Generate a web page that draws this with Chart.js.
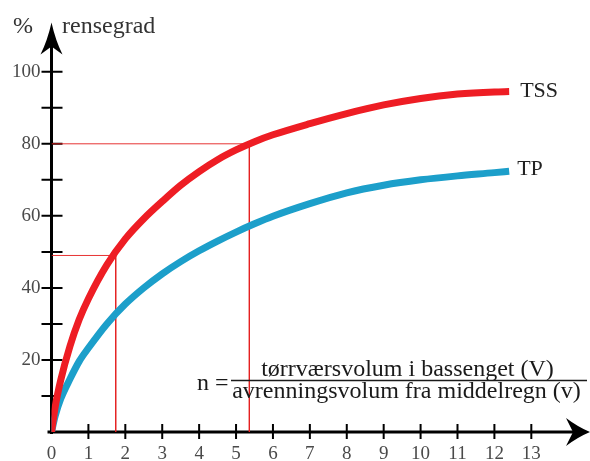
<!DOCTYPE html>
<html><head><meta charset="utf-8">
<script src="https://cdn.jsdelivr.net/npm/chart.js@4/dist/chart.umd.min.js"></script>
<style>html,body{margin:0;padding:0;background:#fff}#wrap{width:590px;height:461px}</style>
</head><body><div id="wrap"><canvas id="c" width="590" height="461"></canvas></div>
<script>
// ---- data ----
const xValues = [0, 0.1, 0.25, 0.5, 0.75, 1, 1.5, 2, 2.5, 3, 3.5, 4, 4.5, 5, 5.5, 6, 7, 8, 9, 10, 11, 12, 12.4];
const tssValues = [0, 7, 14.4, 23.8, 31.2, 37.0, 46.4, 53.6, 59.2, 64.0, 68.5, 72.3, 75.6, 78.3, 80.6, 82.5, 85.6, 88.4, 90.8, 92.6, 93.8, 94.4, 94.5];
const tpValues = [0, 4.5, 9.2, 14.7, 19.6, 23.3, 30.0, 35.5, 40.0, 43.9, 47.3, 50.3, 53.0, 55.5, 57.8, 59.9, 63.4, 66.4, 68.5, 70.0, 71.1, 72.0, 72.4];
const guideX = [1.74, 5.36];
const guideY = [49, 80];
const xTickValues = [0,1,2,3,4,5,6,7,8,9,10,11,12,13];
const yTickValues = [10,20,30,40,50,60,70,80,90,100];
const yLabelValues = [20,40,60,80,100];
const seriesNames = ['TSS', 'TP'];
const yUnit = '%';
const yTitle = 'rensegrad';
const formulaLhs = 'n =';
const formulaNum = 'tørrværsvolum i bassenget (V)';
const formulaDen = 'avrenningsvolum fra middelregn (v)';
const xMax = 14.59, yMax = 113.7;

const SERIF = '"Liberation Serif", "Times New Roman", serif';
const pts = (xs, ys) => xs.map((x, i) => ({x, y: ys[i]}));
const guideData = (gx, gy) => [{x: 0, y: gy}, {x: gx, y: gy}, {x: gx, y: 0}];

const axesPlugin = {
  id: 'axes',
  beforeDatasetsDraw(chart) {
    const {ctx, scales: {x, y}} = chart;
    const x0 = x.getPixelForValue(0), y0 = y.getPixelForValue(0);
    const yTop = y.getPixelForValue(yMax), xEnd = x.getPixelForValue(xMax);
    ctx.save();
    ctx.strokeStyle = '#000';
    ctx.lineWidth = 3;
    ctx.beginPath();
    ctx.moveTo(x0, y0 + 2); ctx.lineTo(x0, yTop + 22);
    ctx.moveTo(x0 - 4, y0); ctx.lineTo(xEnd - 16, y0);
    ctx.stroke();
    ctx.lineWidth = 2;
    ctx.beginPath();
    yTickValues.forEach(v => { const p = y.getPixelForValue(v); ctx.moveTo(x0 - 10, p); ctx.lineTo(x0 + 11, p); });
    xTickValues.filter(v => v > 0).forEach(v => { const p = x.getPixelForValue(v); ctx.moveTo(p, y0 - 8); ctx.lineTo(p, y0 + 7); });
    ctx.stroke();
    ctx.fillStyle = '#000';
    ctx.beginPath();
    ctx.moveTo(x0, yTop);
    ctx.quadraticCurveTo(x0 + 4, yTop + 18, x0 + 11, yTop + 32);
    ctx.lineTo(x0, yTop + 24);
    ctx.lineTo(x0 - 11, yTop + 32);
    ctx.quadraticCurveTo(x0 - 4, yTop + 18, x0, yTop);
    ctx.fill();
    ctx.beginPath();
    ctx.moveTo(xEnd, y0);
    ctx.quadraticCurveTo(xEnd - 12, y0 - 5, xEnd - 24, y0 - 14);
    ctx.lineTo(xEnd - 17, y0);
    ctx.lineTo(xEnd - 24, y0 + 14);
    ctx.quadraticCurveTo(xEnd - 12, y0 + 5, xEnd, y0);
    ctx.fill();
    ctx.restore();
  }
};

const textPlugin = {
  id: 'texts',
  afterDraw(chart) {
    const {ctx, scales: {x, y}} = chart;
    ctx.save();
    ctx.fillStyle = '#333';
    ctx.font = '24px ' + SERIF;
    ctx.textBaseline = 'alphabetic';
    ctx.textAlign = 'left';
    ctx.fillText(yUnit, 13, 33);
    ctx.fillText(yTitle, 62, 33);
    // series labels at line ends
    ctx.fillStyle = '#222';
    ctx.font = '22px ' + SERIF;
    ctx.textBaseline = 'middle';
    const lastX = xValues[xValues.length - 1];
    [[tssValues, 11, 0], [tpValues, 8, -2]].forEach(([ys, dx, dy], i) => {
      const px = x.getPixelForValue(lastX);
      const py = y.getPixelForValue(ys[ys.length - 1]);
      ctx.fillText(seriesNames[i], px + dx, py + dy);
    });
    // formula
    ctx.fillStyle = '#1a1a1a';
    ctx.font = '24px ' + SERIF;
    ctx.textBaseline = 'alphabetic';
    ctx.fillText(formulaLhs, 197, 390);
    ctx.textAlign = 'center';
    ctx.fillText(formulaNum, 407.5, 376);
    ctx.fillText(formulaDen, 406.5, 398);
    ctx.strokeStyle = '#1a1a1a';
    ctx.lineWidth = 1.5;
    ctx.beginPath(); ctx.moveTo(231, 380.5); ctx.lineTo(587, 380.5); ctx.stroke();
    ctx.restore();
  }
};

const tickFont = {family: SERIF, size: 19};
new Chart(document.getElementById('c'), {
  type: 'line',
  data: {
    datasets: [
      {label: seriesNames[0], data: pts(xValues, tssValues), borderColor: '#ee1d24', borderWidth: 7, pointRadius: 0, cubicInterpolationMode: 'monotone', borderCapStyle: 'butt', borderJoinStyle: 'round', order: 1},
      {label: seriesNames[1], data: pts(xValues, tpValues), borderColor: '#1c9fca', borderWidth: 7, pointRadius: 0, cubicInterpolationMode: 'monotone', borderCapStyle: 'butt', borderJoinStyle: 'round', order: 2},
      {label: 'g1', data: guideData(guideX[0], guideY[0]), borderColor: 'rgba(228,30,30,0.9)', borderWidth: 1, pointRadius: 0, tension: 0, order: 3},
      {label: 'g2', data: guideData(guideX[1], guideY[1]), borderColor: 'rgba(228,30,30,0.9)', borderWidth: 1, pointRadius: 0, tension: 0, order: 4}
    ]
  },
  options: {
    responsive: false,
    animation: false,
    devicePixelRatio: 1,
    layout: {padding: {top: 17, left: 0, right: 0, bottom: 0}},
    plugins: {legend: {display: false}, tooltip: {enabled: false}},
    scales: {
      x: {
        type: 'linear', min: 0, max: xMax,
        afterBuildTicks: s => { s.ticks = xTickValues.map(v => ({value: v})); },
        afterFit: s => { s.height = 29; },
        grid: {display: false, drawTicks: false},
        border: {display: false},
        ticks: {autoSkip: false, maxRotation: 0, padding: 11, color: '#4a4a4a', font: tickFont, callback: v => String(v)}
      },
      y: {
        type: 'linear', min: 0, max: yMax,
        afterBuildTicks: s => { s.ticks = yTickValues.map(v => ({value: v})); },
        afterFit: s => { s.width = 51.5; },
        grid: {display: false, drawTicks: false},
        border: {display: false},
        ticks: {autoSkip: false, padding: 11, color: '#4a4a4a', font: tickFont, callback: v => yLabelValues.includes(v) ? String(v) : ''}
      }
    }
  },
  plugins: [axesPlugin, textPlugin]
});
</script>
</body></html>
